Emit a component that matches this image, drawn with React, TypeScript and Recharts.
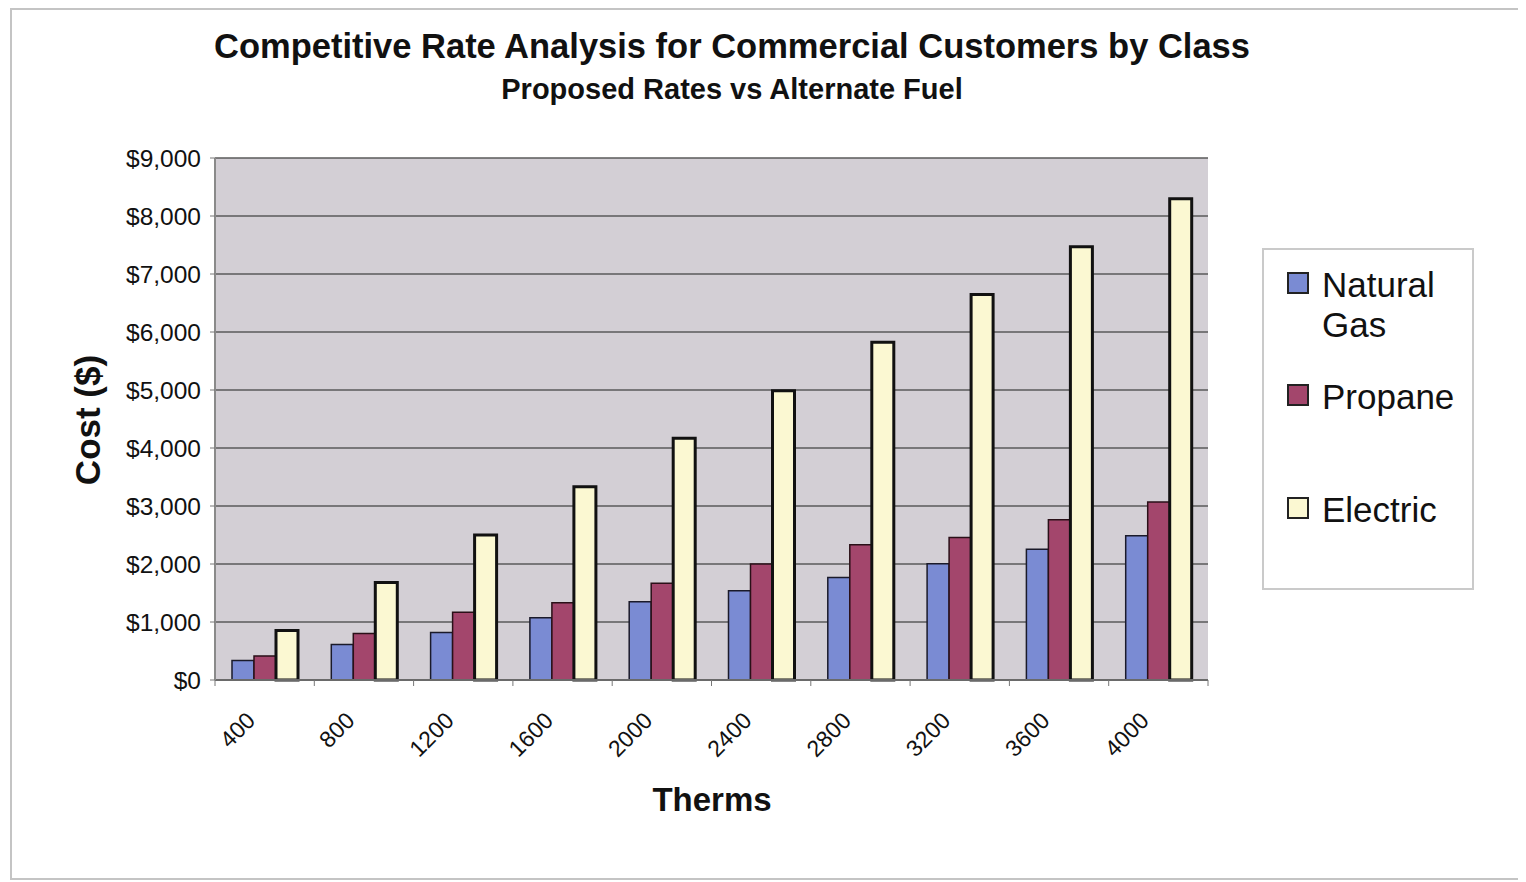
import { BarChart, Bar, XAxis, YAxis, CartesianGrid } from 'recharts';

const therms = ['400', '800', '1200', '1600', '2000', '2400', '2800', '3200', '3600', '4000'];
const naturalGas = [335, 610, 820, 1075, 1350, 1540, 1767, 2003, 2256, 2486];
const propane = [415, 800, 1167, 1333, 1667, 2000, 2331, 2458, 2763, 3068];
const electric = [854, 1683, 2500, 3333, 4167, 4988, 5825, 6647, 7471, 8299];
const costTicks = [0, 1000, 2000, 3000, 4000, 5000, 6000, 7000, 8000, 9000];

const series = [
  { key: 'naturalGas', name: 'Natural Gas', color: '#7a8bd3', stroke: '#1a1a2a', width: 1.5 },
  { key: 'propane', name: 'Propane', color: '#a3466c', stroke: '#2a1018', width: 1.5 },
  { key: 'electric', name: 'Electric', color: '#fbf8d2', stroke: '#111111', width: 3 },
];

const data = therms.map((t, i) => ({
  therms: t,
  naturalGas: naturalGas[i],
  propane: propane[i],
  electric: electric[i],
}));

const FONT = '"Liberation Sans", Arial, sans-serif';

const CHART_W = 1510;
const CHART_H = 868;
const MARGIN = { top: 148, right: 314, bottom: 118, left: 103 };
const Y_AXIS_W = 100;
const BAND = (CHART_W - MARGIN.left - MARGIN.right - Y_AXIS_W) / therms.length;

const money = (v: number) => '$' + v.toLocaleString('en-US');

// slanted category labels plus small tick marks on the category boundaries
const ThermTick = (props: any) => {
  const { x, y, payload, index } = props;
  const half = BAND / 2;
  return (
    <g>
      {index === 0 && <line x1={x - half} x2={x - half} y1={y} y2={y + 6} stroke="#777" />}
      <line x1={x + half} x2={x + half} y1={y} y2={y + 6} stroke="#777" />
      <g transform={`translate(${x - 8},${y + 42}) rotate(-45)`}>
        <text x={0} y={0} textAnchor="end" fontFamily={FONT} fontSize={23} fill="#111">
          {payload.value}
        </text>
      </g>
    </g>
  );
};

const legendRows = [24, 136, 249];

const LegendBox = () => (
  <div
    style={{
      position: 'absolute',
      left: 1250,
      top: 238,
      width: 212,
      height: 342,
      border: '2px solid #cacaca',
      boxSizing: 'border-box',
      background: '#fff',
      fontFamily: FONT,
      fontSize: 35,
      color: '#111',
    }}
  >
    {series.map((s, i) => (
      <div key={s.key} style={{ position: 'absolute', left: 23, top: legendRows[i] - 2 }}>
        <div
          style={{
            position: 'absolute',
            left: 0,
            top: 0,
            width: 22,
            height: 22,
            boxSizing: 'border-box',
            border: '2px solid #222',
            background: s.color,
          }}
        />
        <div style={{ position: 'absolute', left: 35, top: -7, width: 150, lineHeight: '40px' }}>
          {s.name}
        </div>
      </div>
    ))}
  </div>
);

export default function App() {
  return (
    <div
      style={{
        position: 'relative',
        width: CHART_W,
        height: CHART_H,
        marginLeft: 2,
        border: '2px solid #c4c4c4',
        background: '#fff',
        fontFamily: FONT,
      }}
    >
      <div
        style={{
          position: 'absolute',
          left: 0,
          top: 17,
          width: 1440,
          textAlign: 'center',
          fontSize: 34.5,
          fontWeight: 'bold',
          color: '#111',
        }}
      >
        Competitive Rate Analysis for Commercial Customers by Class
      </div>
      <div
        style={{
          position: 'absolute',
          left: 0,
          top: 63,
          width: 1440,
          textAlign: 'center',
          fontSize: 29,
          fontWeight: 'bold',
          color: '#111',
        }}
      >
        Proposed Rates vs Alternate Fuel
      </div>
      <div
        style={{
          position: 'absolute',
          left: 76,
          top: 410,
          transform: 'translate(-50%, -50%) rotate(-90deg)',
          fontSize: 35,
          fontWeight: 'bold',
          color: '#111',
          whiteSpace: 'nowrap',
        }}
      >
        Cost ($)
      </div>
      <div
        style={{
          position: 'absolute',
          left: 700,
          top: 790,
          transform: 'translate(-50%, -50%)',
          fontSize: 33,
          fontWeight: 'bold',
          color: '#111',
        }}
      >
        Therms
      </div>

      <div style={{ position: 'absolute', left: 0, top: 0 }}>
        <BarChart
          width={CHART_W}
          height={CHART_H}
          data={data}
          margin={MARGIN}
          barSize={22}
          barGap={0}
        >
          <CartesianGrid vertical={false} fill="#d3cfd5" stroke="#5a5a5a" strokeWidth={1.5} />
          <XAxis
            dataKey="therms"
            height={80}
            interval={0}
            tickLine={false}
            tickSize={0}
            tickMargin={0}
            tick={<ThermTick />}
            axisLine={{ stroke: '#6a6a6a', strokeWidth: 2 }}
          />
          <YAxis
            width={Y_AXIS_W}
            domain={[0, 9000]}
            ticks={costTicks}
            interval={0}
            tickFormatter={money}
            tickSize={5}
            tickMargin={9}
            tickLine={{ stroke: '#777' }}
            axisLine={{ stroke: '#8a8a8a', strokeWidth: 2 }}
            tick={{ fontFamily: FONT, fontSize: 24.5, fill: '#111' }}
          />
          <YAxis
            yAxisId="edge"
            orientation="right"
            width={0}
            tick={false}
            tickLine={false}
            axisLine={{ stroke: '#9a9a9a', strokeWidth: 2 }}
          />
          {series.map((s) => (
            <Bar
              key={s.key}
              dataKey={s.key}
              name={s.name}
              fill={s.color}
              stroke={s.stroke}
              strokeWidth={s.width}
              isAnimationActive={false}
            />
          ))}
        </BarChart>
      </div>

      <LegendBox />
    </div>
  );
}
